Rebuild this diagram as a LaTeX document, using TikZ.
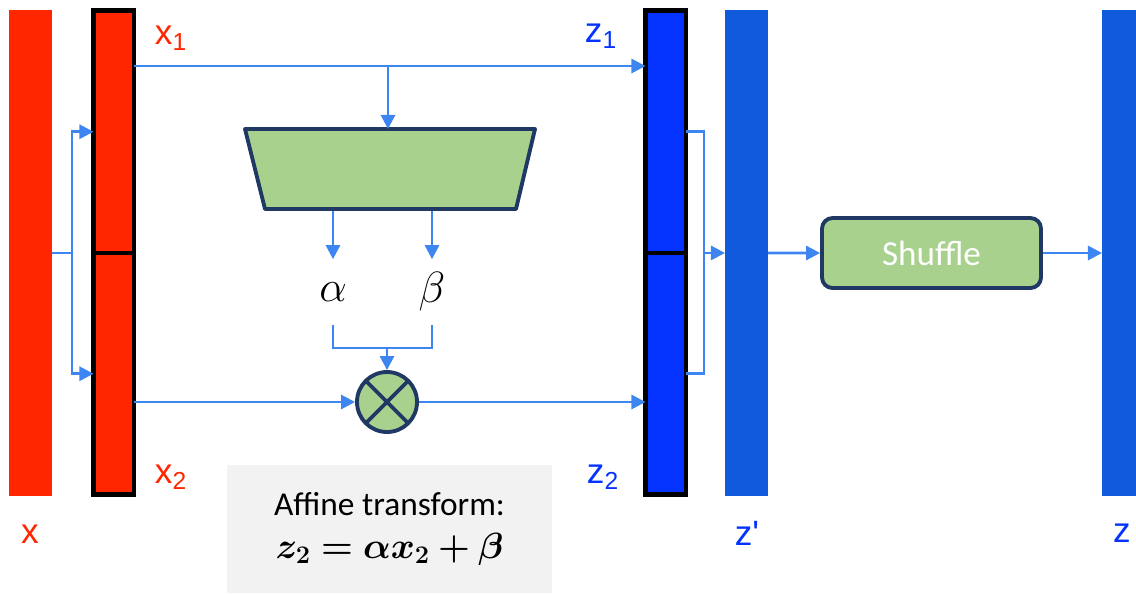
\documentclass[tikz,border=0pt]{standalone}
\usepackage{fontspec}
\newfontfamily\arialfont{Liberation Sans}
\newfontfamily\calibrifont{Carlito}
\usepackage{bm}
\usepackage{tikz}
\usetikzlibrary{arrows.meta,shapes.geometric,positioning}
\definecolor{flow-red}{HTML}{FF2600}
\definecolor{flow-blue}{HTML}{0433FF}
\definecolor{flow-mid}{HTML}{0F5BDB}
\definecolor{flow-line}{HTML}{3D85F0}
\definecolor{flow-green}{HTML}{A9D18E}
\definecolor{flow-navy}{HTML}{1F3864}
\definecolor{flow-grey}{HTML}{F2F2F2}

\begin{document}
\begin{tikzpicture}[
  x=0.02cm, y=-0.02cm,
  bar/.style={rectangle, inner sep=0pt, outer sep=0pt, minimum width=0.86cm, minimum height=9.72cm, anchor=north west},
  half/.style={rectangle, draw=black, line width=2.8pt, inner sep=0pt, outer sep=0pt, minimum width=0.81cm, anchor=north west},
  lbl/.style={font=\arialfont\fontsize{20}{23}\selectfont, inner sep=0pt},
  box/.style={draw=flow-navy, line width=2.2pt, fill=flow-green},
  greek/.style={font=\fontsize{26}{30}\selectfont, inner sep=0pt, minimum height=1.3cm},
  arrow/.style={-{Triangle[length=8pt,width=8pt]}, line width=1.6pt, flow-line},
  link/.style={line width=1.6pt, flow-line}
]
  \useasboundingbox (0,0) rectangle (1136,593);

  \node[bar, fill=flow-red] (x) at (9,10) {};
  \node[half, fill=flow-red, minimum height=4.85cm] (x1) at (93.5,10.5) {};
  \node[half, fill=flow-red, minimum height=4.83cm] (x2) at (93.5,253) {};
  \node[half, fill=flow-blue, minimum height=4.85cm] (z1) at (645.5,10.5) {};
  \node[half, fill=flow-blue, minimum height=4.83cm] (z2) at (645.5,253) {};
  \node[bar, fill=flow-mid] (zp) at (725,10) {};
  \node[bar, fill=flow-mid, minimum width=0.68cm] (z) at (1102,10) {};

  \node[lbl, text=flow-red] (xlbl) at (30,534) {x};
  \node[lbl, text=flow-red] (x1lbl) at (171,38) {x\textsubscript{1}};
  \node[lbl, text=flow-red] (x2lbl) at (171,477) {x\textsubscript{2}};
  \node[lbl, text=flow-blue] (z1lbl) at (601,36) {z\textsubscript{1}};
  \node[lbl, text=flow-blue] (z2lbl) at (603,477) {z\textsubscript{2}};
  \node[lbl, text=flow-blue] (zplbl) at (747,533) {z\textquotesingle};
  \node[lbl, text=flow-blue] (zlbl) at (1122,533) {z};

  \draw[box, line join=round] (245,129) -- (535,129) -- (516,209) -- (265,209) -- cycle;
  \coordinate (net-in) at (388,129);
  \coordinate (net-out) at (390,211);
  \node[greek] (alpha) at (333,292) {$\alpha$};
  \node[greek] (beta) at (432,292) {$\beta$};
  \node[box, circle, minimum size=1.2cm, inner sep=0pt, path picture={
    \draw[flow-navy, line width=2.2pt] (path picture bounding box.south west) -- (path picture bounding box.north east)
      (path picture bounding box.north west) -- (path picture bounding box.south east);}] (mult) at (387,402) {};

  \node[box, rounded corners=6pt, minimum width=4.38cm, minimum height=1.4cm, font=\calibrifont\fontsize{20}{24}\selectfont, text=white] (shuffle) at (931.5,253) {Shuffle};

  \node[fill=flow-grey, minimum width=6.5cm, minimum height=2.56cm, inner sep=0pt, align=center, font=\fontsize{19}{24}\selectfont] (affine) at (389.5,529)
    {{\calibrifont Affine transform:}\\ {\fontsize{20}{24}\selectfont$\bm{z_2=\alpha x_2+\beta}$}};

  \draw[link] (x.east) -- ++(20,0) coordinate (xsplit);
  \draw[arrow] (xsplit) |- (x1.west);
  \draw[arrow] (xsplit) |- (x2.west);

  \coordinate (tap) at (388,66);
  \draw[arrow] (x1.east |- tap) -- (z1.west |- tap);
  \draw[arrow] (tap) -- (net-in);
  \draw[arrow] (alpha |- net-out) -- (alpha.north);
  \draw[arrow] (beta |- net-out) -- (beta.north);

  \coordinate (join) at (387,348);
  \draw[link] (alpha.south) |- (join) -| (beta.south);
  \draw[arrow] (join) -- (mult.north);
  \draw[arrow] (x2.east |- mult) -- (mult.west);
  \draw[arrow] (mult.east) -- (z2.west |- mult);

  \draw[link] (z1.east) -- ++(18,0) coordinate (zsplit) |- (z2.east);
  \draw[arrow] (zsplit |- zp.west) -- (zp.west);
  \draw[arrow] (zp.east) -- (shuffle.west);
  \draw[arrow] (shuffle.east) -- (z.west |- shuffle.east);
\end{tikzpicture}
\end{document}
